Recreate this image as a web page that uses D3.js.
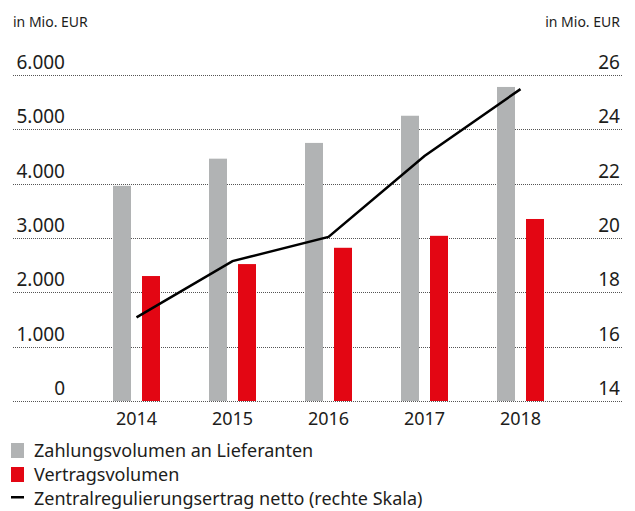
<!DOCTYPE html>
<html><head><meta charset="utf-8">
<script src="https://cdn.jsdelivr.net/npm/d3@7"></script>
<style>body{margin:0;background:#fff}svg{display:block}text{font-family:"Noto Sans",sans-serif;fill:#1d1d1b}</style>
</head><body>
<script>
const years = ["2014","2015","2016","2017","2018"];
const zahlungsvolumen = [3960, 4460, 4750, 5250, 5780];
const vertragsvolumen = [2300, 2520, 2820, 3040, 3350];
const ertrag = [17.08, 19.15, 20.04, 23.02, 25.48];
const leftTicks = [0, 1000, 2000, 3000, 4000, 5000, 6000];
const rightTicks = [14, 16, 18, 20, 22, 24, 26];
const legendLabels = ["Zahlungsvolumen an Lieferanten", "Vertragsvolumen", "Zentralregulierungsertrag netto (rechte Skala)"];

const W = 635, H = 511;
const svg = d3.select("body").append("svg").attr("width", W).attr("height", H);
const yL = d3.scaleLinear().domain([0, 6000]).range([401, 75]);
const yR = d3.scaleLinear().domain([14, 26]).range([401, 75]);
const x = d3.scaleBand().domain(years).range([88.5, 568.5]).paddingInner(0).paddingOuter(0);
const fmt = d3.formatLocale({decimal: ",", thousands: ".", grouping: [3], currency: ["", "€"]}).format(",");

// grid
svg.append("g").selectAll("line").data(leftTicks).join("line")
  .attr("x1", 13).attr("x2", 622).attr("y1", d => Math.round(yL(d)) + 0.5).attr("y2", d => Math.round(yL(d)) + 0.5)
  .attr("stroke", "#555").attr("stroke-width", 1).attr("stroke-dasharray", "1,1");

// left labels
svg.append("g").selectAll("text").data(leftTicks).join("text")
  .attr("x", 65).attr("y", d => yL(d) - 6).attr("text-anchor", "end")
  .attr("font-size", 19).text(d => fmt(d));
// right labels
svg.append("g").selectAll("text").data(rightTicks).join("text")
  .attr("x", 620).attr("y", d => yR(d) - 6).attr("text-anchor", "end")
  .attr("font-size", 19).text(d => d);

svg.append("text").attr("x", 13).attr("y", 27).attr("font-size", 14).text("in Mio. EUR");
svg.append("text").attr("x", 620).attr("y", 27).attr("font-size", 14).attr("text-anchor", "end").text("in Mio. EUR");

const bw = 18;
svg.append("g").selectAll("rect").data(years).join("rect")
  .attr("x", d => x(d) + x.bandwidth() / 2 - 5.5 - bw).attr("width", bw)
  .attr("y", (d, i) => yL(zahlungsvolumen[i])).attr("height", (d, i) => yL(0) - yL(zahlungsvolumen[i]))
  .attr("fill", "#b1b3b4");
svg.append("g").selectAll("rect").data(years).join("rect")
  .attr("x", d => x(d) + x.bandwidth() / 2 + 5.5).attr("width", bw)
  .attr("y", (d, i) => yL(vertragsvolumen[i])).attr("height", (d, i) => yL(0) - yL(vertragsvolumen[i]))
  .attr("fill", "#e30613");

const line = d3.line().x((d, i) => x(years[i]) + x.bandwidth() / 2).y(d => yR(d));
svg.append("path").datum(ertrag).attr("d", line).attr("fill", "none").attr("stroke", "#000").attr("stroke-width", 2.5);

// x labels
svg.append("g").selectAll("text").data(years).join("text")
  .attr("x", d => x(d) + x.bandwidth() / 2).attr("y", 425).attr("text-anchor", "middle")
  .attr("font-size", 18).text(d => d);

// legend
const lg = svg.append("g");
lg.append("rect").attr("x", 11).attr("y", 443).attr("width", 13).attr("height", 15).attr("fill", "#b1b3b4");
lg.append("rect").attr("x", 11).attr("y", 467).attr("width", 13).attr("height", 15).attr("fill", "#e30613");
lg.append("rect").attr("x", 11).attr("y", 496).attr("width", 13).attr("height", 2.5).attr("fill", "#000");
lg.selectAll("text").data(legendLabels).join("text")
  .attr("x", 34).attr("y", (d, i) => 457 + i * 24).attr("font-size", 18).text(d => d);
</script>
</body></html>
